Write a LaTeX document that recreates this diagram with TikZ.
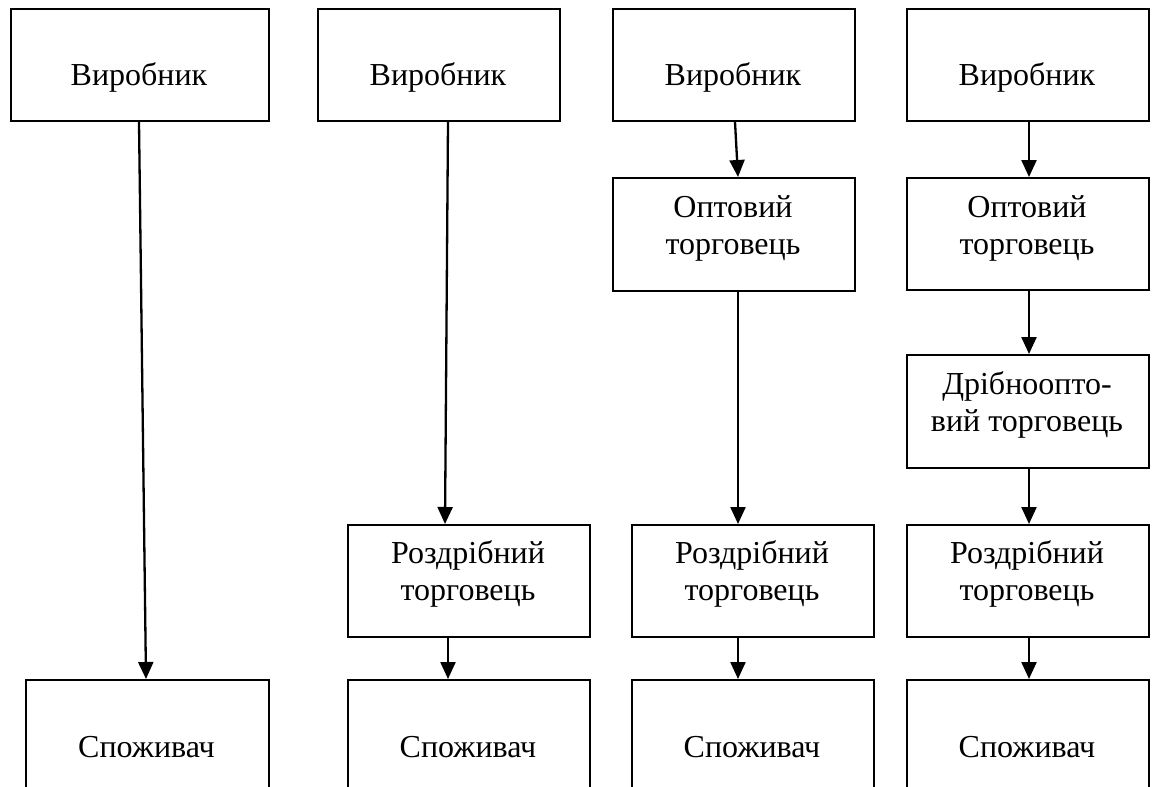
\documentclass[tikz,border=0pt]{standalone}
\usepackage{fontspec}
\setmainfont{Liberation Serif}
\usetikzlibrary{arrows.meta}
\begin{document}
\begin{tikzpicture}[x=1pt,y=-1pt,
  box/.style={draw, line width=2pt, minimum width=242pt, minimum height=112pt, inner sep=0pt, anchor=north west},
  lbl/.style={anchor=base, font=\fontsize{32}{38}\selectfont, inner sep=0pt},
  arr/.style={line width=2.3pt, -{Triangle[length=17pt,width=15pt]}}]
\useasboundingbox (0,0) rectangle (1154,787);
\clip (0,0) rectangle (1154,787);
\fill[white] (0,0) rectangle (1154,787);
% column 1
\node[box, minimum width=258pt] (v1) at (10,8) {};
\node[box, minimum width=243pt, minimum height=136pt] (s1) at (25,679) {};
% column 2
\node[box] (v2) at (317,8) {};
\node[box] (r2) at (347,524) {};
\node[box, minimum height=136pt] (s2) at (347,679) {};
% column 3
\node[box] (v3) at (612,8) {};
\node[box, minimum height=113pt] (o3) at (612,177) {};
\node[box] (r3) at (631,524) {};
\node[box, minimum height=136pt] (s3) at (631,679) {};
% column 4
\node[box] (v4) at (906,8) {};
\node[box] (o4) at (906,177) {};
\node[box, minimum height=113pt] (d4) at (906,354) {};
\node[box] (r4) at (906,524) {};
\node[box, minimum height=136pt] (s4) at (906,679) {};
% labels
\node[lbl] (tv1) at (139,85) {Виробник};
\node[lbl] (ts1) at (146.5,757) {Споживач};
\node[lbl] (tv2) at (438,85) {Виробник};
\node[lbl] (tr2a) at (468,563) {Роздрібний};
\node[lbl] (tr2b) at (468,600) {торговець};
\node[lbl] (ts2) at (468,757) {Споживач};
\node[lbl] (tv3) at (733,85) {Виробник};
\node[lbl] (to3a) at (733,217) {Оптовий};
\node[lbl] (to3b) at (733,254) {торговець};
\node[lbl] (tr3a) at (752,563) {Роздрібний};
\node[lbl] (tr3b) at (752,600) {торговець};
\node[lbl] (ts3) at (752,757) {Споживач};
\node[lbl] (tv4) at (1027,85) {Виробник};
\node[lbl] (to4a) at (1027,217) {Оптовий};
\node[lbl] (to4b) at (1027,254) {торговець};
\node[lbl] (td4a) at (1027,394) {Дрібноопто-};
\node[lbl] (td4b) at (1027,431) {вий торговець};
\node[lbl] (tr4a) at (1027,563) {Роздрібний};
\node[lbl] (tr4b) at (1027,600) {торговець};
\node[lbl] (ts4) at (1027,757) {Споживач};
% arrows
\draw[arr] ([xshift=-1pt]v1.south) -- ([xshift=-1.5pt]s1.north);
\draw[arr] ([xshift=9pt]v2.south) -- ([xshift=-24pt]r2.north);
\draw[arr] ([xshift=-21pt]r2.south) -- ([xshift=-21pt]s2.north);
\draw[arr] ([xshift=1pt]v3.south) -- ([xshift=4pt]o3.north);
\draw[arr] ([xshift=4pt]o3.south) -- ([xshift=-15pt]r3.north);
\draw[arr] ([xshift=-15pt]r3.south) -- ([xshift=-15pt]s3.north);
\draw[arr] ([xshift=1pt]v4.south) -- ([xshift=1pt]o4.north);
\draw[arr] ([xshift=1pt]o4.south) -- ([xshift=1pt]d4.north);
\draw[arr] ([xshift=1pt]d4.south) -- ([xshift=1pt]r4.north);
\draw[arr] ([xshift=1pt]r4.south) -- ([xshift=1pt]s4.north);
\end{tikzpicture}
\end{document}
